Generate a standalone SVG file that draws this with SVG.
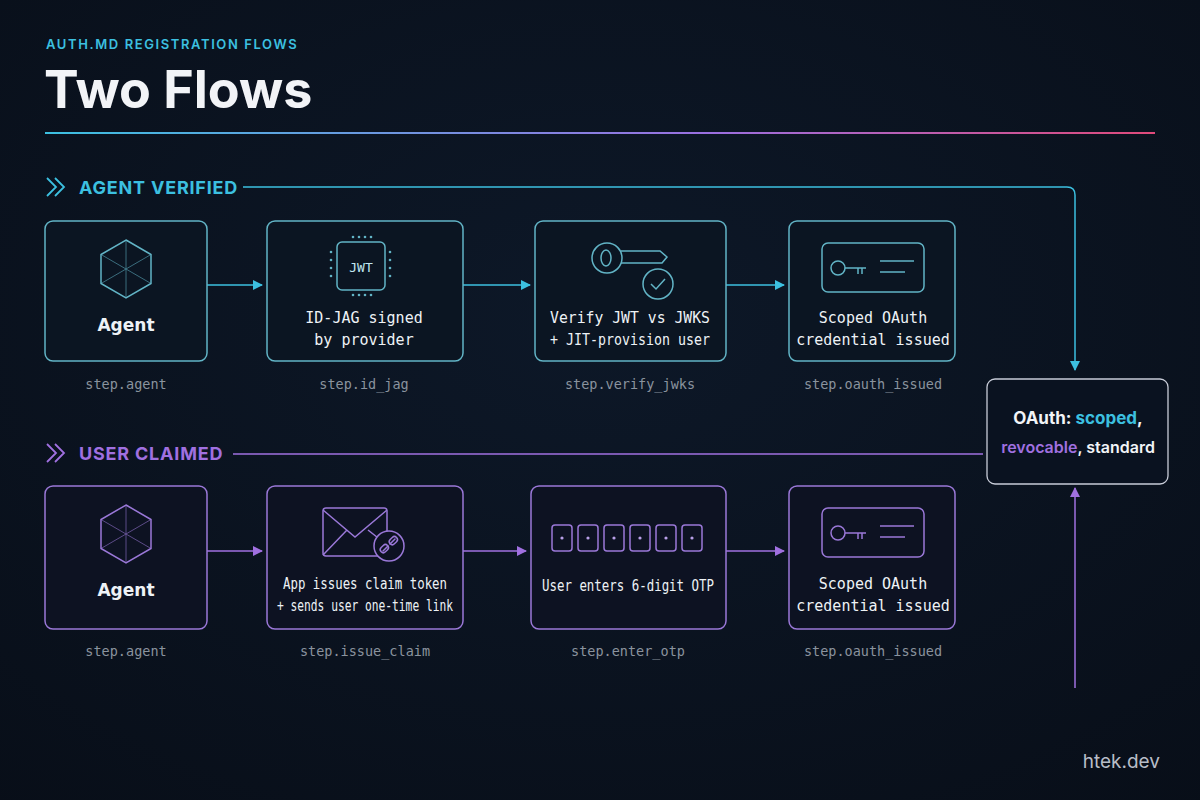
<svg xmlns="http://www.w3.org/2000/svg" width="1200" height="800" viewBox="0 0 1200 800">
<defs>
<linearGradient id="rule" x1="0" x2="1" y1="0" y2="0"><stop offset="0" stop-color="#3cc0e0"/><stop offset="0.6" stop-color="#9b6fe0"/><stop offset="1" stop-color="#e04a7a"/></linearGradient>
<radialGradient id="bg" cx="0.5" cy="0.4" r="0.8"><stop offset="0" stop-color="#0d1828"/><stop offset="1" stop-color="#080e18"/></radialGradient>
<marker id="ac" markerWidth="10" markerHeight="10" refX="9" refY="5" orient="auto" markerUnits="userSpaceOnUse"><path d="M0,0 L10,5 L0,10 z" fill="#3cc0e0"/></marker>
<marker id="ap" markerWidth="10" markerHeight="10" refX="9" refY="5" orient="auto" markerUnits="userSpaceOnUse"><path d="M0,0 L10,5 L0,10 z" fill="#a070e0"/></marker>
<style>
.bc{fill:#0b1522;stroke:#62b4c6;stroke-width:1.5}
.bp{fill:#0d1222;stroke:#9a78d8;stroke-width:1.5}
.ic{fill:none;stroke:#62b4c6;stroke-width:1.5}
.ip{fill:none;stroke:#9a78d8;stroke-width:1.5}
.t{font-family:"DejaVu Sans Mono",monospace;font-size:15px;fill:#eef2f6;text-anchor:middle}
.tb{font-family:"DejaVu Sans",sans-serif;font-size:17px;font-weight:bold;fill:#eef2f6;text-anchor:middle}
.lab{font-family:"DejaVu Sans Mono",monospace;font-size:13.5px;fill:#8a939e;text-anchor:middle}
.cc{stroke:#3cc0e0;stroke-width:1.5;fill:none}
.cp{stroke:#a070e0;stroke-width:1.5;fill:none}
</style>
</defs>
<rect width="1200" height="800" fill="url(#bg)"/>
<text x="46" y="49" font-family="Inter,sans-serif" font-size="13" font-weight="600" letter-spacing="1.6" fill="#3cc0e0">AUTH.MD REGISTRATION FLOWS</text>
<text x="44" y="108" font-family="Inter,sans-serif" font-size="52" font-weight="bold" fill="#f2f4f7">Two Flows</text>
<rect x="45" y="132" width="1110" height="2" fill="url(#rule)"/>
<path d="M47,178 L56,187 L47,196 M55,178 L64,187 L55,196" fill="none" stroke="#3cc0e0" stroke-width="1.8"/>
<text x="79" y="194" font-family="Inter,sans-serif" font-size="18" font-weight="bold" letter-spacing="0.8" fill="#3cc0e0">AGENT VERIFIED</text>
<path d="M47,444 L56,453 L47,462 M55,444 L64,453 L55,462" fill="none" stroke="#a070e0" stroke-width="1.8"/>
<text x="79" y="460" font-family="Inter,sans-serif" font-size="18" font-weight="bold" letter-spacing="0.8" fill="#a070e0">USER CLAIMED</text>
<g id="connectors">
<path class="cc" d="M243,187 H1067 Q1075,187 1075,195 V370" marker-end="url(#ac)"/>
<path class="cp" d="M233,454 H983"/>
<path class="cp" d="M1075,688 V488" marker-end="url(#ap)"/>
<path class="cc" d="M207,285 H262" marker-end="url(#ac)"/>
<path class="cc" d="M463,285 H530" marker-end="url(#ac)"/>
<path class="cc" d="M726,285 H784" marker-end="url(#ac)"/>
<path class="cp" d="M207,551 H262" marker-end="url(#ap)"/>
<path class="cp" d="M463,551 H526" marker-end="url(#ap)"/>
<path class="cp" d="M726,551 H784" marker-end="url(#ap)"/>
</g>
<g id="a-agent">
<rect class="bc" x="45" y="221" width="162" height="140" rx="8"/>
<g transform="translate(126,269)"><polygon class="ic" points="0,-29 25,-14.5 25,14.5 0,29 -25,14.5 -25,-14.5"/><path d="M0,-29 V29 M-25,-14.5 L25,14.5 M-25,14.5 L25,-14.5" stroke="#62b4c6" stroke-width="0.8" opacity="0.7"/></g>
<text class="tb" x="126" y="331">Agent</text>
<text class="lab" x="126" y="389">step.agent</text>
</g>
<g id="a-idjag">
<rect class="bc" x="267" y="221" width="196" height="140" rx="8"/>
<rect class="ic" x="337" y="242" width="48" height="48" rx="5"/>
<text x="361" y="272" font-family="DejaVu Sans Mono,monospace" font-size="13" fill="#bfe6f0" text-anchor="middle">JWT</text>
<g fill="#62b4c6"><circle cx="353" cy="237" r="1.3"/><circle cx="359" cy="237" r="1.3"/><circle cx="365" cy="237" r="1.3"/><circle cx="371" cy="237" r="1.3"/><circle cx="353" cy="295" r="1.3"/><circle cx="359" cy="295" r="1.3"/><circle cx="365" cy="295" r="1.3"/><circle cx="371" cy="295" r="1.3"/><circle cx="331" cy="252" r="1.3"/><circle cx="331" cy="260" r="1.3"/><circle cx="331" cy="268" r="1.3"/><circle cx="331" cy="276" r="1.3"/><circle cx="390" cy="252" r="1.3"/><circle cx="390" cy="260" r="1.3"/><circle cx="390" cy="268" r="1.3"/><circle cx="390" cy="276" r="1.3"/></g>
<text class="t" x="364" y="323">ID-JAG signed</text>
<text class="t" x="364" y="345">by provider</text>
<text class="lab" x="364" y="389">step.id_jag</text>
</g>
<g id="a-verify">
<rect class="bc" x="535" y="221" width="191" height="140" rx="8"/>
<circle class="ic" cx="607" cy="258" r="15"/><ellipse class="ic" cx="606" cy="258" rx="5" ry="8"/>
<path class="ic" d="M621,251 H660 L667,257 L662,263 H621"/>
<circle class="ic" cx="658" cy="284" r="15"/><path class="ic" d="M651,284 L656,289 L665,279"/>
<text class="t" x="630" y="323" textLength="160" lengthAdjust="spacingAndGlyphs">Verify JWT vs JWKS</text>
<text class="t" x="630" y="345" textLength="160" lengthAdjust="spacingAndGlyphs">+ JIT-provision user</text>
<text class="lab" x="630" y="389">step.verify_jwks</text>
</g>
<g id="a-oauth">
<rect class="bc" x="789" y="221" width="166" height="140" rx="8"/>
<rect class="ic" x="822" y="243" width="102" height="49" rx="6"/>
<circle class="ic" cx="838" cy="268" r="7"/><path class="ic" d="M845,268 H866 M858,268 V274 M862,268 V274 M880,261 H914 M880,272 H905"/>
<text class="t" x="873" y="323">Scoped OAuth</text>
<text class="t" x="873" y="345">credential issued</text>
<text class="lab" x="873" y="389">step.oauth_issued</text>
</g>
<g id="u-agent">
<rect class="bp" x="45" y="486" width="162" height="143" rx="8"/>
<g transform="translate(126,534)"><polygon class="ip" points="0,-29 25,-14.5 25,14.5 0,29 -25,14.5 -25,-14.5"/><path d="M0,-29 V29 M-25,-14.5 L25,14.5 M-25,14.5 L25,-14.5" stroke="#9a78d8" stroke-width="0.8" opacity="0.7"/></g>
<text class="tb" x="126" y="596">Agent</text>
<text class="lab" x="126" y="656">step.agent</text>
</g>
<g id="u-claim">
<rect class="bp" x="267" y="486" width="196" height="143" rx="8"/>
<rect class="ip" x="323" y="508" width="64" height="48" rx="3"/>
<path class="ip" d="M323,510 L355,537 L387,510 M323,555 L347,530 M387,545 L368,530"/>
<circle cx="389" cy="546" r="15" fill="#0d1222" stroke="#9a78d8" stroke-width="1.5"/>
<path class="ip" d="M383,551 L388,546 M390,544 L395,539" stroke-linecap="round"/><rect class="ip" x="380" y="546" width="9" height="6" rx="3" transform="rotate(-45 384 549)"/><rect class="ip" x="389" y="538" width="9" height="6" rx="3" transform="rotate(-45 393 541)"/>
<text class="t" x="365" y="589" font-size="14" textLength="164" lengthAdjust="spacingAndGlyphs">App issues claim token</text>
<text class="t" x="365" y="611" font-size="13.5" textLength="176" lengthAdjust="spacingAndGlyphs">+ sends user one-time link</text>
<text class="lab" x="365" y="656">step.issue_claim</text>
</g>
<g id="u-otp">
<rect class="bp" x="531" y="486" width="195" height="143" rx="8"/>
<g class="ip"><rect x="552" y="525" width="20" height="26" rx="3"/><rect x="578" y="525" width="20" height="26" rx="3"/><rect x="604" y="525" width="20" height="26" rx="3"/><rect x="630" y="525" width="20" height="26" rx="3"/><rect x="656" y="525" width="20" height="26" rx="3"/><rect x="682" y="525" width="20" height="26" rx="3"/></g>
<g fill="#b9a0e8"><circle cx="562" cy="538" r="1.6"/><circle cx="588" cy="538" r="1.6"/><circle cx="614" cy="538" r="1.6"/><circle cx="640" cy="538" r="1.6"/><circle cx="666" cy="538" r="1.6"/><circle cx="692" cy="538" r="1.6"/></g>
<text class="t" x="628" y="591" font-size="14" textLength="172" lengthAdjust="spacingAndGlyphs">User enters 6-digit OTP</text>
<text class="lab" x="628" y="656">step.enter_otp</text>
</g>
<g id="u-oauth">
<rect class="bp" x="789" y="486" width="166" height="143" rx="8"/>
<rect class="ip" x="822" y="508" width="102" height="49" rx="6"/>
<circle class="ip" cx="838" cy="533" r="7"/><path class="ip" d="M845,533 H866 M858,533 V539 M862,533 V539 M880,526 H914 M880,537 H905"/>
<text class="t" x="873" y="589">Scoped OAuth</text>
<text class="t" x="873" y="611">credential issued</text>
<text class="lab" x="873" y="656">step.oauth_issued</text>
</g>
<g id="oauth">
<rect x="987" y="379" width="181" height="105" rx="8" fill="#0a1220" stroke="#c8ccd8" stroke-width="1.3"/>
<text x="1078" y="424" font-family="Inter,sans-serif" font-size="17" font-weight="bold" fill="#f2f4f7" text-anchor="middle">OAuth: <tspan fill="#3cc0e0">scoped</tspan>,</text>
<text x="1078" y="453" font-family="Inter,sans-serif" font-size="16" font-weight="600" fill="#f2f4f7" text-anchor="middle"><tspan fill="#a070e0">revocable</tspan>, standard</text>
</g>
<text x="1160" y="768" font-family="Inter,sans-serif" font-size="19" fill="#b8bec8" text-anchor="end">htek.dev</text>
</svg>
